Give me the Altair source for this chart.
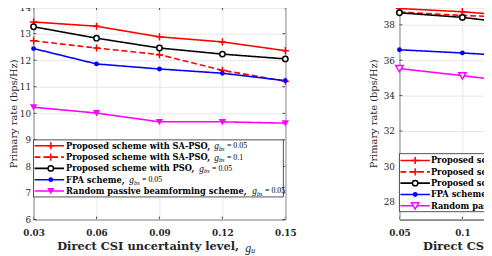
import altair as alt
import pandas as pd

# ---------------- data ----------------
x_left = [0.03, 0.06, 0.09, 0.12, 0.15]
sa005_left = [13.44, 13.28, 12.88, 12.69, 12.36]
sa01_left = [12.73, 12.46, 12.21, 11.62, 11.21]
pso_left = [13.26, 12.83, 12.46, 12.23, 12.05]
fpa_left = [12.44, 11.86, 11.67, 11.51, 11.23]
rand_left = [10.23, 10.01, 9.68, 9.68, 9.63]

x_right = [0.05, 0.10, 0.15]
sa005_right = [38.92, 38.74, 38.45]
sa01_right = [38.72, 38.53, 38.40]
pso_right = [38.68, 38.42, 38.00]
fpa_right = [36.59, 36.41, 36.20]
rand_right = [35.53, 35.13, 34.70]

x_ticks_left = [0.03, 0.06, 0.09, 0.12, 0.15]
y_ticks_left = [6, 7, 8, 9, 10, 11, 12, 13, 14]
x_ticks_right = [0.05, 0.1, 0.15, 0.2, 0.25]
y_ticks_right = [28, 30, 32, 34, 36, 38]

legend_main = [
    "Proposed scheme with SA-PSO, ",
    "Proposed scheme with SA-PSO, ",
    "Proposed scheme with PSO, ",
    "FPA scheme, ",
    "Random passive beamforming scheme, ",
]
legend_val = ["0.05", "0.1", "0.05", "0.05", "0.05"]
x_title_main = "Direct CSI uncertainty level, "
y_title = "Primary rate (bps/Hz)"

# ---------------- style ----------------
W, H = 256, 216
AX = "#262626"
GRID = "#e6e6e6"
SERIF = "DejaVu Serif"
MATH = "Liberation Serif"
PLUS = "M-1,0L1,0M0,-1L0,1"
TRI = "M-1,-0.8L1,-0.8L0,0.9Z"
LEG_FS = 8.4
TITLE_FS = 11.6

styles = [
    dict(color="#ff0000", dash=[1, 0], shape=PLUS, filled=False, size=52),
    dict(color="#ff0000", dash=[6, 3], shape=PLUS, filled=False, size=52),
    dict(color="#000000", dash=[1, 0], shape="circle", filled=False, size=30),
    dict(color="#0000ff", dash=[1, 0], shape="circle", filled=True, size=24),
    dict(color="#ff00ff", dash=[1, 0], shape=TRI, filled=True, size=56),
]

BOLD_W = {' ': .348, ',': .380, '-': .338, '.': .380, 'A': .774, 'C': .734, 'D': .838,
          'F': .720, 'I': .468, 'O': .850, 'P': .733, 'R': .790, 'S': .720,
          'a': .675, 'b': .698, 'c': .590, 'd': .698, 'e': .652, 'f': .438, 'g': .698,
          'h': .757, 'i': .378, 'l': .378, 'm': 1.102, 'n': .757, 'o': .669, 'p': .698,
          'r': .541, 's': .593, 't': .478, 'u': .757, 'v': .652, 'w': .968, 'y': .652}


def text_w(s, size, k=0.99):
    return sum(BOLD_W.get(c, .65) for c in s) * size * k


ONE = pd.DataFrame({"k": [0]})


def txt(x, y, s, size, font=SERIF, weight="normal", style="normal", color="black"):
    kw = dict(align="left", baseline="middle", font=font, fontSize=size,
              fontWeight=weight, fontStyle=style, color=color)
    return alt.Chart(ONE).mark_text(**kw).encode(
        x=alt.value(x), y=alt.value(y), text=alt.value(s))


def panel(xs, ys_list, xdom, xticks, xfmt, ydom, yticks, leg, right_side, open_tri):
    xaxis = alt.Axis(values=xticks, format=xfmt, title=None, grid=True, gridColor=GRID,
                     domain=False, ticks=False, tickSize=0, labelPadding=9,
                     labelFont=SERIF, labelFontWeight="bold", labelFontSize=9,
                     labelColor=AX, labelFlush=False)
    yaxis = alt.Axis(values=yticks, title=y_title, grid=True, gridColor=GRID,
                     domain=False, ticks=False, tickSize=0,
                     labelPadding=5 if right_side else 3,
                     labelFont=SERIF, labelFontSize=9, labelColor=AX,
                     titleFont=SERIF, titleFontSize=10, titleFontWeight="normal",
                     titleColor=AX, titlePadding=5 if right_side else 1)
    X = lambda f: alt.X(f, type="quantitative", scale=alt.Scale(domain=xdom, nice=False, zero=False), axis=xaxis)
    Y = lambda f: alt.Y(f, type="quantitative", scale=alt.Scale(domain=ydom, nice=False, zero=False), axis=yaxis)

    layers = []
    # inward ticks
    yt = pd.DataFrame({"v": yticks})
    xt = pd.DataFrame({"v": xticks})
    layers.append(alt.Chart(yt).mark_rule(color=AX, strokeWidth=0.8).encode(y=Y("v"), x=alt.value(0), x2=alt.value(3)))
    layers.append(alt.Chart(yt).mark_rule(color=AX, strokeWidth=0.8).encode(y=Y("v"), x=alt.value(W - 3), x2=alt.value(W)))
    layers.append(alt.Chart(xt).mark_rule(color=AX, strokeWidth=0.8, clip=True).encode(x=X("v"), y=alt.value(H - 3), y2=alt.value(H)))
    layers.append(alt.Chart(xt).mark_rule(color=AX, strokeWidth=0.8, clip=True).encode(x=X("v"), y=alt.value(0), y2=alt.value(3)))

    for ys, st in zip(ys_list, styles):
        df = pd.DataFrame({"x": xs, "y": ys})
        layers.append(alt.Chart(df).mark_line(color=st["color"], strokeWidth=1.6,
                                              strokeDash=st["dash"]).encode(x=X("x"), y=Y("y")))
    for i, (ys, st) in enumerate(zip(ys_list, styles)):
        df = pd.DataFrame({"x": xs, "y": ys})
        filled = st["filled"] and not (open_tri and i == 4)
        layers.append(alt.Chart(df).mark_point(shape=st["shape"], size=st["size"], filled=filled,
                                               color=st["color"], strokeWidth=1.5,
                                               fill=st["color"] if filled else "white",
                                               opacity=1).encode(x=X("x"), y=Y("y")))

    # legend
    bx0, bx1, by0, by1, ry0, dy, lx0, lx1, mx, tx = leg
    layers.append(alt.Chart(ONE).mark_rect(fill="white", stroke=AX, strokeWidth=0.8).encode(
        x=alt.value(bx0), x2=alt.value(bx1), y=alt.value(by0), y2=alt.value(by1)))
    for i, st in enumerate(styles):
        yy = ry0 + i * dy
        layers.append(alt.Chart(ONE).mark_rule(color=st["color"], strokeWidth=1.6,
                                               strokeDash=st["dash"]).encode(
            x=alt.value(lx0), x2=alt.value(lx1), y=alt.value(yy)))
        filled = st["filled"] and not (open_tri and i == 4)
        layers.append(alt.Chart(ONE).mark_point(shape=st["shape"], size=st["size"], filled=filled,
                                                color=st["color"], strokeWidth=1.5,
                                                fill=st["color"] if filled else "white",
                                                opacity=1).encode(
            x=alt.value(mx), y=alt.value(yy)))
        main = legend_main[i]
        layers.append(txt(tx, yy, main, LEG_FS, weight="bold", color="black"))
        gx = tx + text_w(main, LEG_FS, 0.985) + 1.0
        layers.append(txt(gx, yy + 0.5, "g", 9.5, font=MATH, style="italic"))
        layers.append(txt(gx + 4.8, yy + 3, "bs", 6.5, font=MATH, style="italic"))
        layers.append(txt(gx + 13, yy + 0.5, "= " + legend_val[i], 8, font=MATH))

    # x-axis title built from text pieces
    ty = H + 28
    layers.append(txt(24, ty, x_title_main, TITLE_FS, weight="bold", color=AX))
    gx = 24 + text_w(x_title_main, TITLE_FS) + 0.5
    layers.append(txt(gx, ty + 0.5, "g", 12, font=MATH, style="italic", color=AX))
    layers.append(txt(gx + 6, ty + 3.5, "u", 8.5, font=MATH, style="italic", color=AX))

    return alt.layer(*layers).properties(width=W, height=H)


left = panel(x_left, [sa005_left, sa01_left, pso_left, fpa_left, rand_left],
             [0.03, 0.15], x_ticks_left, ".2f", [6, 14], y_ticks_left,
             (0, 254, 135, 193, 141, 11.5, 1, 31, 17.5, 33), False, False)
right = panel(x_right, [sa005_right, sa01_right, pso_right, fpa_right, rand_right],
              [0.05, 0.25], x_ticks_right, ".2~f", [27, 39], y_ticks_right,
              (0, 256, 149, 208, 156, 11.5, 1, 31, 16, 32), True, True)

chart = alt.hconcat(left, right, spacing=72).properties(
    padding={"left": 0, "top": -9, "right": -182, "bottom": 0}
).configure_view(stroke=AX, strokeWidth=1)

chart.save("out.html", embed_options={"renderer": "svg", "actions": False})
